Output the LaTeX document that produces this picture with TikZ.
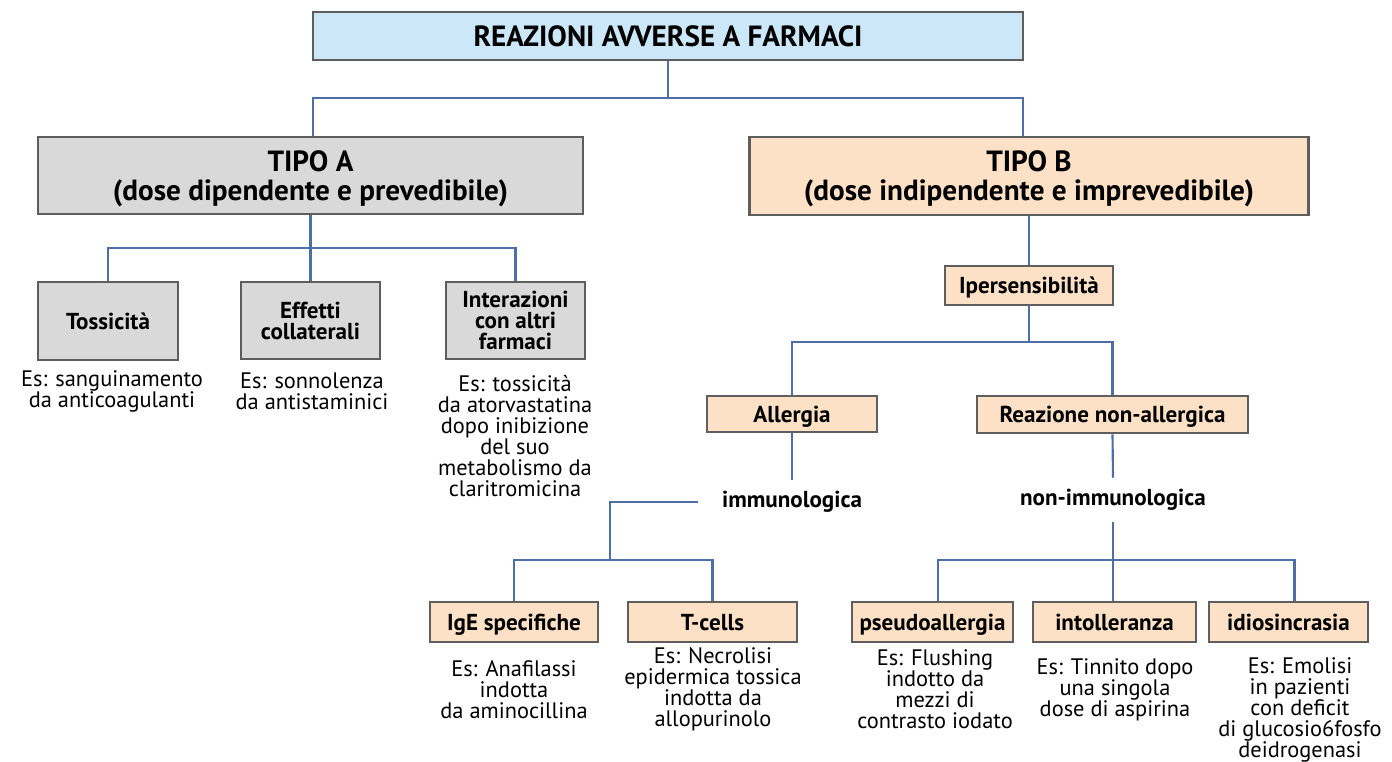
\documentclass[tikz,border=0pt]{standalone}
\usepackage{fontspec}
\setmainfont{PT Sans}
\usetikzlibrary{calc}
\definecolor{conn}{HTML}{4F6EA8}
\definecolor{bord}{HTML}{5E5E5E}
\definecolor{fblue}{HTML}{CCE8F8}
\definecolor{fgray}{HTML}{D9D9D9}
\definecolor{fpeach}{HTML}{FDE1C6}
\tikzset{
  box/.style={draw=bord, line width=2.2pt, inner sep=0pt, align=center, font=\bfseries\fontsize{17.3}{15.75}\selectfont},
  onel/.style={text depth=0pt},
  bigbox/.style={box, text depth=0pt, font=\bfseries\fontsize{21.9}{21.75}\selectfont},
  capt/.style={align=center, inner sep=0pt, font=\fontsize{16.8}{15.75}\selectfont},
  lbl/.style={inner xsep=17.5pt, inner ysep=0pt, minimum height=33pt, font=\bfseries\fontsize{17.3}{15.75}\selectfont},
  link/.style={draw=conn, line width=1.6pt}
}
\begin{document}
\begin{tikzpicture}[x=0.75pt,y=-0.75pt]
\useasboundingbox (0,0) rectangle (1392,761);
% boxes
\node[bigbox, fill=fblue, minimum width=710*0.75pt, minimum height=48*0.75pt] (top) at (668,36) {REAZIONI AVVERSE A FARMACI};
\node[bigbox, fill=fgray, minimum width=545*0.75pt, minimum height=77*0.75pt] (tipoA) at (310.5,175.5) {TIPO A\\(dose dipendente e prevedibile)};
\node[bigbox, fill=fpeach, minimum width=559*0.75pt, minimum height=78*0.75pt] (tipoB) at (1029,176) {TIPO B\\(dose indipendente e imprevedibile)};
\node[box, onel, fill=fgray, minimum width=140*0.75pt, minimum height=78*0.75pt] (toss) at (108,321) {Tossicità};
\node[box, fill=fgray, minimum width=139*0.75pt, minimum height=77*0.75pt] (eff) at (310.5,320.5) {Effetti\\collaterali};
\node[box, fill=fgray, minimum width=139*0.75pt, minimum height=77*0.75pt] (inter) at (515.5,320.5) {Interazioni\\con altri\\farmaci};
\node[box, onel, fill=fpeach, minimum width=168*0.75pt, minimum height=39*0.75pt] (iper) at (1029,285.5) {Ipersensibilità};
\node[box, onel, fill=fpeach, minimum width=170*0.75pt, minimum height=36*0.75pt] (all) at (792,414) {Allergia};
\node[box, onel, fill=fpeach, minimum width=271*0.75pt, minimum height=37*0.75pt] (nonall) at (1112.5,414.5) {Reazione non-allergica};
\node[lbl] (imm) at (792,502) {immunologica};
\node[lbl] (nonimm) at (1113,500) {non-immunologica};
\node[box, onel, fill=fpeach, minimum width=168*0.75pt, minimum height=40*0.75pt] (ige) at (514,622) {IgE specifiche};
\node[box, onel, fill=fpeach, minimum width=169*0.75pt, minimum height=40*0.75pt] (tcell) at (712.5,622) {T-cells};
\node[box, onel, fill=fpeach, minimum width=161*0.75pt, minimum height=40*0.75pt] (pseudo) at (932.5,622) {pseudoallergia};
\node[box, onel, fill=fpeach, minimum width=163*0.75pt, minimum height=40*0.75pt] (intol) at (1114.5,622) {intolleranza};
\node[box, onel, fill=fpeach, minimum width=159*0.75pt, minimum height=40*0.75pt] (idio) at (1288.5,622) {idiosincrasia};
% captions
\node[capt] (c1) at (112,391) {Es: sanguinamento\\da anticoagulanti};
\node[capt] (c2) at (312,391) {Es: sonnolenza\\da antistaminici};
\node[capt] (c3) at (515,436.5) {Es: tossicità\\da atorvastatina\\dopo inibizione\\del suo\\metabolismo da\\claritromicina};
\node[capt] (c4) at (514,690) {Es: Anafilassi\\indotta\\da aminocillina};
\node[capt] (c5) at (713,689.5) {Es: Necrolisi\\epidermica tossica\\indotta da\\allopurinolo};
\node[capt] (c6) at (935,689.5) {Es: Flushing\\indotto da\\mezzi di\\contrasto iodato};
\node[capt] (c7) at (1115,690) {Es: Tinnito dopo\\una singola\\dose di aspirina};
\node[capt] (c8) at (1300,710) {Es: Emolisi\\in pazienti\\con deficit\\di glucosio6fosfo\\deidrogenasi};
% junctions
\coordinate (j1) at (668,98);
\coordinate (j2) at (310.5,248);
\coordinate (j3) at (1029,342);
\coordinate (j5) at (610,560);
\coordinate (j6) at (1113,560);
% connectors
\draw[link] (top.south) -- (j1);
\draw[link] (j1) -| ([xshift=1.9pt]tipoA.north);
\draw[link] (j1) -| ([xshift=-4.5pt]tipoB.north);
\draw[link] (tipoA.south) -- (j2);
\draw[link] (j2) -| (toss.north);
\draw[link] (j2) -- (eff.north);
\draw[link] (j2) -| (inter.north);
\draw[link] (tipoB.south) -- (iper.north);
\draw[link] (iper.south) -- (j3);
\draw[link] (j3) -| (all.north);
\draw[link] (j3) -| (nonall.north);
\draw[link] (all.south) -- (imm.north);
\draw[link] (imm.west) -| (j5);
\draw[link] (j5) -| (ige.north);
\draw[link] (j5) -| (tcell.north);
\draw[link] (nonall.south) -- (nonimm.north);
\draw[link] (nonimm.south) -- (j6);
\draw[link] (j6) -| ([xshift=4pt]pseudo.north);
\draw[link] (j6) -- (j6 |- intol.north);
\draw[link] (j6) -| ([xshift=4.5pt]idio.north);
\end{tikzpicture}
\end{document}
